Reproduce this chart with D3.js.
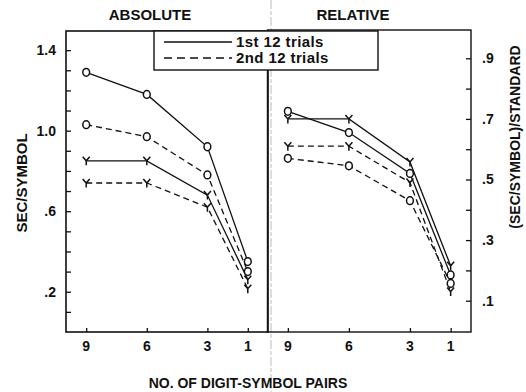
<!DOCTYPE html>
<html><head><meta charset="utf-8">
<script src="https://cdn.jsdelivr.net/npm/d3@7"></script>
<style>
html,body{margin:0;padding:0;background:#fff;}
svg{display:block;}
text{font-family:"Liberation Sans",Arial,sans-serif;font-weight:bold;fill:#111;}
</style></head>
<body>
<script>
// ---- data ----
const pairs = [9, 6, 3, 1];
const absFirstO  = [1.29, 1.18, 0.92, 0.35];
const absSecondO = [1.03, 0.97, 0.78, 0.30];
const absFirstY  = [0.85, 0.85, 0.68, 0.26];
const absSecondY = [0.74, 0.74, 0.62, 0.215];
const relFirstO  = [0.725, 0.655, 0.52, 0.185];
const relFirstY  = [0.70, 0.70, 0.558, 0.215];
const relSecondO = [0.57, 0.545, 0.43, 0.157];
const relSecondY = [0.61, 0.61, 0.49, 0.13];
const absTicks = [0.2, 0.6, 1.0, 1.4];
const absMinor = [0.1,0.2,0.3,0.4,0.5,0.6,0.7,0.8,0.9,1.0,1.1,1.2,1.3,1.4];
const relTicks = [0.1, 0.3, 0.5, 0.7, 0.9];
const relMinor = [0.1,0.2,0.3,0.4,0.5,0.6,0.7,0.8,0.9];
const legendLabels = ["1st 12 trials", "2nd 12 trials"];

const W = 526, H = 392;
const svg = d3.select("body").append("svg").attr("width", W).attr("height", H);

// scales
const xAbs = d3.scaleLinear().domain([10, 0]).range([66, 268]);
const yAbs = d3.scaleLinear().domain([0, 1.5]).range([332, 30]);
const xRel = d3.scaleLinear().domain([10, 0]).range([267.5, 471]);
const yRel = d3.scaleLinear().domain([0, 1]).range([331, 28]);

// scan artifact line
svg.append("line").attr("x1",271).attr("x2",271).attr("y1",0).attr("y2",H)
  .attr("stroke","#aaa").attr("stroke-width",0.8).attr("stroke-dasharray","9,2,4,2");

// frames
svg.append("rect").attr("x",66).attr("y",31).attr("width",202).attr("height",301)
  .attr("fill","none").attr("stroke","#111").attr("stroke-width",1.6);
svg.append("rect").attr("x",267.5).attr("y",30).attr("width",203.5).attr("height",302)
  .attr("fill","none").attr("stroke","#111").attr("stroke-width",1.4);

// left axis (ticks inward)
const gAL = svg.append("g").attr("transform","translate(66,0)")
  .call(d3.axisRight(yAbs).tickValues(absMinor).tickSize(5).tickFormat(""));
gAL.select(".domain").remove();
gAL.selectAll("line").attr("stroke","#111").attr("stroke-width",1.3);
svg.selectAll(".absLbl").data(absTicks).enter().append("text")
  .attr("x",56).attr("y",d=>yAbs(d)).attr("dy","0.35em").attr("text-anchor","end")
  .attr("font-size",14).text(d=>d3.format(".1f")(d).replace(/^0/,""));

// right axis (ticks inward)
const gAR = svg.append("g").attr("transform","translate(471,0)")
  .call(d3.axisLeft(yRel).tickValues(relMinor).tickSize(5).tickFormat(""));
gAR.select(".domain").remove();
gAR.selectAll("line").attr("stroke","#111").attr("stroke-width",1.3);
svg.selectAll(".relLbl").data(relTicks).enter().append("text")
  .attr("x",482).attr("y",d=>yRel(d)).attr("dy","0.35em").attr("text-anchor","start")
  .attr("font-size",14).text(d=>d3.format(".1f")(d).replace(/^0/,""));

// bottom axes
[[xAbs],[xRel]].forEach(([xs])=>{
  const g = svg.append("g").attr("transform","translate(0,332)")
    .call(d3.axisTop(xs).tickValues(pairs).tickSize(4).tickFormat(""));
  g.select(".domain").remove();
  g.selectAll("line").attr("stroke","#111").attr("stroke-width",1.3);
  svg.append("g").selectAll("text").data(pairs).enter().append("text")
    .attr("x",d=>xs(d)).attr("y",351).attr("text-anchor","middle")
    .attr("font-size",14).text(d=>d);
});

// series
const series = [
  {x:xAbs,y:yAbs,v:absFirstO,m:"O",dash:null},
  {x:xAbs,y:yAbs,v:absSecondO,m:"O",dash:"6,4"},
  {x:xAbs,y:yAbs,v:absFirstY,m:"Y",dash:null},
  {x:xAbs,y:yAbs,v:absSecondY,m:"Y",dash:"6,4"},
  {x:xRel,y:yRel,v:relFirstO,m:"O",dash:null},
  {x:xRel,y:yRel,v:relFirstY,m:"Y",dash:null},
  {x:xRel,y:yRel,v:relSecondO,m:"O",dash:"6,4"},
  {x:xRel,y:yRel,v:relSecondY,m:"Y",dash:"6,4"}
];
series.forEach(s=>{
  const pts = pairs.map((p,i)=>[s.x(p), s.y(s.v[i])]);
  svg.append("path").attr("d", d3.line()(pts)).attr("fill","none")
    .attr("stroke","#111").attr("stroke-width",1.3)
    .attr("stroke-dasharray", s.dash);
});
series.forEach(s=>{
  pairs.forEach((p,i)=>{
    const cx = s.x(p), cy = s.y(s.v[i]);
    if (s.m==="O") {
      svg.append("ellipse").attr("cx",cx).attr("cy",cy).attr("rx",3.4).attr("ry",3.9)
        .attr("fill","#fff").attr("stroke","#111").attr("stroke-width",1.5);
    } else {
      svg.append("path").attr("transform",`translate(${cx},${cy})`)
        .attr("d","M-3.5,-4L0,0L3.5,-4M0,0L0,4.5").attr("fill","none")
        .attr("stroke","#111").attr("stroke-width",1.5);
    }
  });
});

// legend
svg.append("rect").attr("x",154).attr("y",31).attr("width",224).attr("height",39)
  .attr("fill","#fff").attr("stroke","#111").attr("stroke-width",1.4);
[null,"8,5"].forEach((dash,i)=>{
  const yy = 42 + i*16;
  svg.append("line").attr("x1",164).attr("x2",232).attr("y1",yy).attr("y2",yy)
    .attr("stroke","#111").attr("stroke-width",1.3).attr("stroke-dasharray",dash);
  svg.append("text").attr("x",236).attr("y",yy).attr("dy","0.35em")
    .attr("font-size",15).attr("letter-spacing",0.4).text(legendLabels[i]);
});

// titles
svg.append("text").attr("x",150).attr("y",20).attr("text-anchor","middle")
  .attr("font-size",15).text("ABSOLUTE");
svg.append("text").attr("x",353).attr("y",20).attr("text-anchor","middle")
  .attr("font-size",15).text("RELATIVE");
svg.append("text").attr("x",248).attr("y",388).attr("text-anchor","middle")
  .attr("font-size",14).text("NO. OF DIGIT-SYMBOL PAIRS");
svg.append("text").attr("transform","translate(22,183) rotate(-90)")
  .attr("text-anchor","middle").attr("dy","0.35em").attr("font-size",15).text("SEC/SYMBOL");
svg.append("text").attr("transform","translate(515,137) rotate(-90)")
  .attr("text-anchor","middle").attr("dy","0.35em").attr("font-size",14).text("(SEC/SYMBOL)/STANDARD");
</script>
</body></html>
